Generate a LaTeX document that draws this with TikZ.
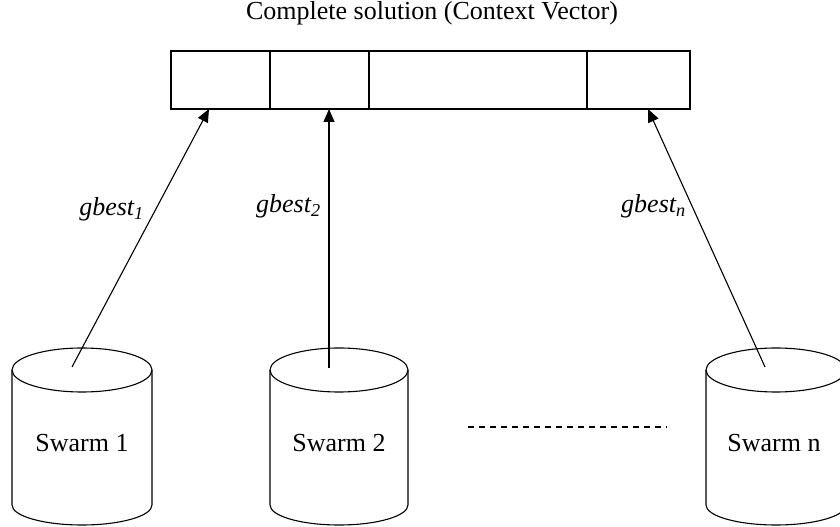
\documentclass[tikz,border=0pt]{standalone}
\usepackage{fontspec}
\setmainfont{Liberation Serif}
\usetikzlibrary{arrows.meta,calc}
\begin{document}
\begin{tikzpicture}[x=1pt,y=1pt,
  lw/.style={line width=1.1pt},
  cell/.style={draw,lw,minimum height=58pt,inner sep=0pt,outer sep=0pt,anchor=south west},
  txt/.style={font=\fontsize{26}{30}\selectfont,inner sep=0pt},
  lbl/.style={font=\fontsize{26}{30}\selectfont\itshape,inner sep=0pt},
  arr/.style={lw,-{Triangle[length=13pt,width=11pt]}},
  cylbody/.style={lw},
  dots/.style={lw,dash pattern=on 6pt off 5pt}]
\useasboundingbox (0,0) rectangle (840,527);
% context vector
\node[txt,anchor=base] (title) at (432,507) {Complete solution (Context Vector)};
\node[cell,minimum width=99pt] (cell1) at (171,418) {};
\node[cell,minimum width=99pt] (cell2) at (270,418) {};
\node[cell,minimum width=218pt] (cell3) at (369,418) {};
\node[cell,minimum width=103pt] (cell4) at (587,418) {};
% cylinders
\foreach \cx/\rx in {82/70,339/69,776/70}{
  \draw[cylbody] (\cx,157) ellipse [x radius=\rx, y radius=22];
  \draw[cylbody] (\cx-\rx,157) -- (\cx-\rx,22)
     arc[start angle=180,end angle=360,x radius=\rx,y radius=20] -- (\cx+\rx,157);
}
\node[txt,anchor=base] (s1) at (82,75) {Swarm 1};
\node[txt,anchor=base] (s2) at (339,75) {Swarm 2};
\node[txt,anchor=base] (sn) at (774,75) {Swarm n};
% arrow start points inside cylinder tops
\coordinate (a1) at (72,160);
\coordinate (a2) at (329,159);
\coordinate (an) at (765,160);
\coordinate (h1) at ($(cell1.south west)+(38,0)$);
\coordinate (h2) at ($(cell2.south west)+(59,0)$);
\coordinate (hn) at ($(cell4.south west)+(61,0)$);
\draw[arr] (a1) -- (h1);
\draw[arr] (a2) -- (h2);
\draw[arr] (an) -- (hn);
% labels
\node[lbl,anchor=base east] (g1) at (144,311) {gbest\textsubscript{1}};
\node[lbl,anchor=base west] (g2) at (256,314) {gbest\textsubscript{2}};
\node[lbl,anchor=base west] (gn) at (621,314) {gbest\textsubscript{n}};
% dashed ellipsis
\coordinate (d1) at (468,100);
\coordinate (d2) at (667,100);
\draw[dots] (d1) -- (d2);
\end{tikzpicture}
\end{document}
